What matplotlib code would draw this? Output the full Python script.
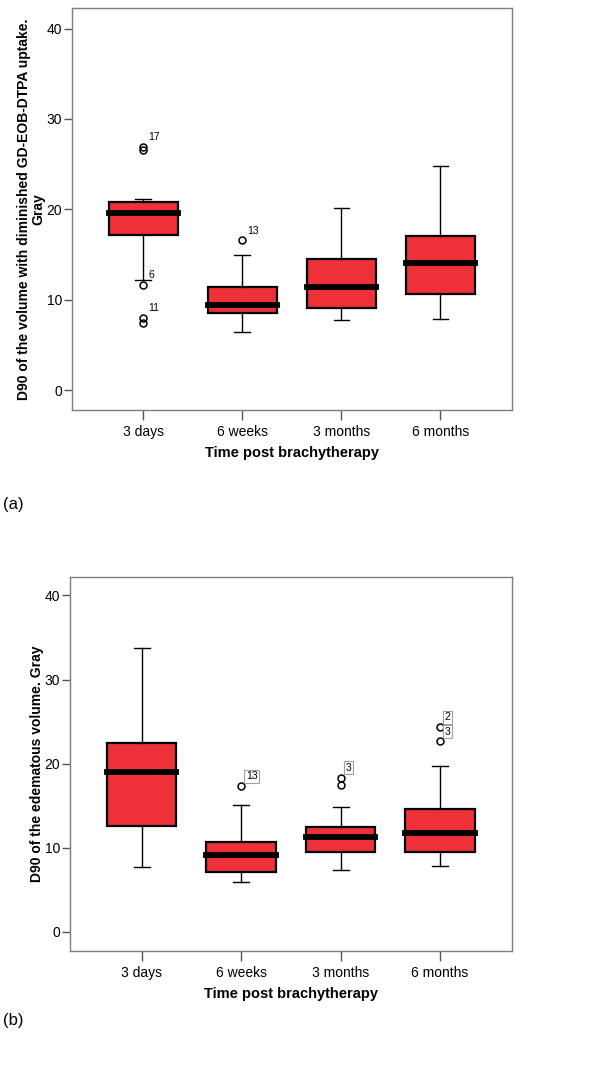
import matplotlib.pyplot as plt

plt.rcParams['font.family'] = ['Liberation Sans', 'DejaVu Sans']

cats = ['3 days', '6 weeks', '3 months', '6 months']

# panel (a): D90 of volume with diminished GD-EOB-DTPA uptake
a_med = [19.55, 9.4, 11.4, 14.05]
a_q1 = [17.2, 8.55, 9.1, 10.6]
a_q3 = [20.8, 11.4, 14.45, 17.07]
a_lo = [12.2, 6.4, 7.8, 7.9]
a_hi = [21.1, 14.9, 20.2, 24.75]
a_fliers = [[26.9, 26.6, 11.6, 8.0, 7.4], [16.55], [], []]
a_labels = [(0, 26.9, '17'), (0, 11.6, '6'), (0, 8.0, '11'), (1, 16.55, '13')]

# panel (b): D90 of the edematous volume
b_med = [19.07, 9.14, 11.28, 11.79]
b_q1 = [12.6, 7.08, 9.54, 9.54]
b_q3 = [22.5, 10.65, 12.5, 14.56]
b_lo = [7.76, 5.9, 7.4, 7.87]
b_hi = [33.8, 15.08, 14.88, 19.67]
b_fliers = [[], [17.37], [18.36, 17.53], [24.38, 22.67]]
b_labels = [(1, 17.37, '13'), (2, 18.36, '3'), (3, 24.38, '2'), (3, 22.67, '3')]

RED = '#ee3139'
GRAY = '#7f7f7f'


def draw(ax, med, q1, q3, lo, hi, fliers, labels, ylabel, boxed, ylim, ylab_x):
    stats = []
    for i in range(len(cats)):
        stats.append(dict(med=med[i], q1=q1[i], q3=q3[i], whislo=lo[i],
                          whishi=hi[i], fliers=fliers[i], label=cats[i]))
    pos = range(1, len(cats) + 1)
    ax.bxp(stats, positions=pos, widths=0.7, capwidths=0.16, patch_artist=True,
           boxprops=dict(facecolor=RED, edgecolor='black', linewidth=1.6),
           medianprops=dict(color='black', linewidth=4.2, solid_capstyle='projecting'),
           whiskerprops=dict(color='black', linewidth=1.0),
           capprops=dict(color='black', linewidth=1.0),
           flierprops=dict(marker='o', markerfacecolor='none', markeredgecolor='black',
                           markersize=5, markeredgewidth=1.1, linestyle='none'))
    for i, v, t in labels:
        kw = {}
        if boxed:
            kw['bbox'] = dict(boxstyle='square,pad=0.15', facecolor='white',
                              edgecolor='#a0a0a0', linewidth=0.8)
        ax.annotate(t, (i + 1, v), xytext=(3.5, 7), textcoords='offset points',
                    ha='left', va='center', fontsize=7.5, **kw)
    ax.set_xlim(0.28, 4.72)
    ax.set_ylim(*ylim)
    ax.set_yticks([0, 10, 20, 30, 40])
    ax.set_xticks(list(pos))
    ax.set_xticklabels(cats)
    for s in ax.spines.values():
        s.set_color(GRAY)
        s.set_linewidth(1.0)
    ax.tick_params(axis='y', direction='out', length=6, width=1, color='#555555',
                   labelsize=10, pad=1)
    ax.tick_params(axis='x', direction='out', length=7, width=1, color='#555555',
                   labelsize=10, pad=4)
    ax.set_xlabel('Time post brachytherapy', fontsize=10.5, fontweight='bold', labelpad=5)
    ax.set_ylabel(ylabel, fontsize=10, fontweight='bold', linespacing=1.05)
    ax.yaxis.set_label_coords(ylab_x, 0.5)


fig = plt.figure(figsize=(6, 10.73), dpi=100)

ax1 = fig.add_axes([0.12, 0.618, 0.733, 0.3747])
draw(ax1, a_med, a_q1, a_q3, a_lo, a_hi, a_fliers, a_labels,
     'D90 of the volume with diminished GD-EOB-DTPA uptake.\nGray', False, (-2.2, 42.3),
     -0.06)

ax2 = fig.add_axes([0.1167, 0.1137, 0.736, 0.3486])
draw(ax2, b_med, b_q1, b_q3, b_lo, b_hi, b_fliers, b_labels,
     'D90 of the edematous volume. Gray', True, (-2.26, 42.2), -0.06)

fig.text(0.005, 1 - 505 / 1073, '(a)', fontsize=12, va='center', ha='left')
fig.text(0.005, 1 - 1021 / 1073, '(b)', fontsize=12, va='center', ha='left')

fig.savefig('out.png', dpi=100)
